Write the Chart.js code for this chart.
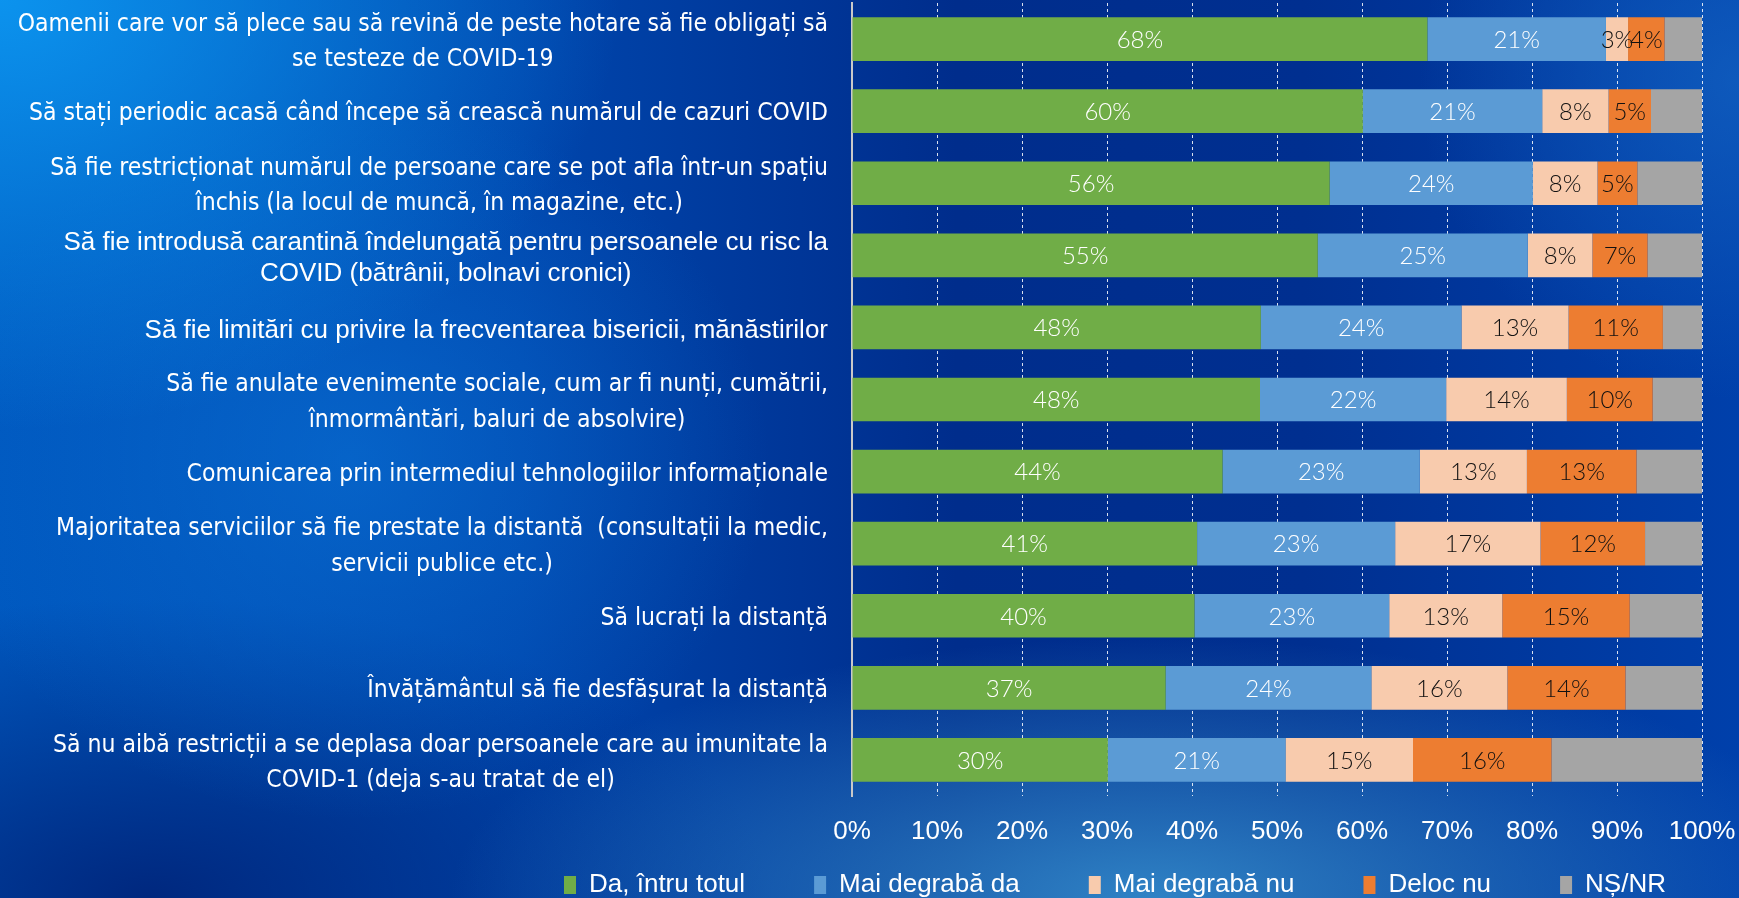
<!DOCTYPE html>
<html>
<head>
<meta charset="utf-8">
<script src="https://cdn.jsdelivr.net/npm/chart.js@4/dist/chart.umd.min.js"></script>
<style>
html, body { margin: 0; padding: 0; width: 1739px; height: 898px; overflow: hidden; }
body {
  background:
    radial-gradient(ellipse 620px 430px at 0px 0px, rgba(12,150,240,0.95), rgba(12,150,240,0) 100%),
    radial-gradient(ellipse 700px 260px at 1150px 898px, rgba(50,135,200,0.95), rgba(50,135,200,0)),
    radial-gradient(ellipse 420px 360px at 350px 460px, rgba(10,115,215,0.6), rgba(10,115,215,0)),
    radial-gradient(ellipse 320px 320px at 1739px 80px, rgba(20,100,195,0.7), rgba(20,100,195,0)),
    radial-gradient(ellipse 620px 300px at 150px 898px, rgba(0,35,120,0.9), rgba(0,35,120,0)),
    linear-gradient(90deg, #0058bf 0%, #0046ad 30%, #002d8c 55%, #002f90 75%, #0040ab 100%);
}
#wrap { position: relative; width: 1739px; height: 898px; }
</style>
</head>
<body>
<div id="wrap"><canvas id="measures_chart"></canvas></div>
<script>
// categories (survey items), top to bottom
const categories = [
  ['Oamenii care vor să plece sau să revină de peste hotare să fie obligați să', 'se testeze de COVID-19'],
  ['Să stați periodic acasă când începe să crească numărul de cazuri COVID'],
  ['Să fie restricționat numărul de persoane care se pot afla într-un spațiu', 'închis (la locul de muncă, în magazine, etc.)'],
  ['Să fie introdusă carantină îndelungată pentru persoanele cu risc la', 'COVID (bătrânii, bolnavi cronici)'],
  ['Să fie limitări cu privire la frecventarea bisericii, mănăstirilor'],
  ['Să fie anulate evenimente sociale, cum ar fi nunți, cumătrii,', 'înmormântări, baluri de absolvire)'],
  ['Comunicarea prin intermediul tehnologiilor informaționale'],
  ['Majoritatea serviciilor să fie prestate la distantă  (consultații la medic,', 'servicii publice etc.)'],
  ['Să lucrați la distanță'],
  ['Învățământul să fie desfășurat la distanță'],
  ['Să nu aibă restricții a se deplasa doar persoanele care au imunitate la', 'COVID-1 (deja s-au tratat de el)']
];
// these two labels are set in Arial in the original
const arial_labels = [3, 4];

const series_names = ['Da, întru totul', 'Mai degrabă da', 'Mai degrabă nu', 'Deloc nu', 'NȘ/NR'];

const da_total       = [67.7, 60.1, 56.2, 54.8, 48.1, 48.0, 43.6, 40.6, 40.3, 36.9, 30.1];
const mai_degraba_da = [21.0, 21.1, 23.9, 24.7, 23.6, 21.9, 23.2, 23.3, 22.9, 24.2, 20.9];
const mai_degraba_nu = [2.6, 7.8, 7.6, 7.6, 12.6, 14.2, 12.6, 17.1, 13.3, 16.0, 15.0];
const deloc_nu       = [4.3, 5.0, 4.7, 6.5, 11.1, 10.1, 12.9, 12.3, 15.0, 13.9, 16.3];
const ns_nr          = [4.4, 6.0, 7.6, 6.4, 4.6, 5.8, 7.7, 6.7, 8.5, 9.0, 17.7];

const x_ticks = [0, 10, 20, 30, 40, 50, 60, 70, 80, 90, 100];

const colors = ['#70AD47', '#5B9BD5', '#F8CBAD', '#ED7D31', '#A5A5A5'];
const label_colors = ['#ffffff', '#ffffff', '#111111', '#111111', null];

const PLOT_LEFT = 852;
const PLOT_BOTTOM = 796;
const CANVAS_H = 898;
const LEGEND_CENTER = {x: 1115, y: 885};

const all_series = [da_total, mai_degraba_da, mai_degraba_nu, deloc_nu, ns_nr];

const data_measures = {
  labels: categories,
  datasets: all_series.map((values, i) => ({
    label: series_names[i],
    data: values,
    backgroundColor: colors[i],
    borderWidth: 0,
    barPercentage: 0.606,
    categoryPercentage: 1.0
  }))
};

// category labels: right aligned block, lines centred inside the block
const categoryLabels = {
  id: 'categoryLabels',
  afterDraw(chart) {
    const ctx = chart.ctx;
    const y = chart.scales.y;
    const right = PLOT_LEFT - 24;
    ctx.save();
    ctx.fillStyle = '#ffffff';
    ctx.textBaseline = 'middle';
    ctx.textAlign = 'center';
    categories.forEach((lines, i) => {
      const arial = arial_labels.includes(i);
      ctx.font = arial ? '26px "Liberation Sans", Arial, sans-serif'
                       : '24.5px "DejaVu Sans Condensed", "DejaVu Sans", sans-serif';
      const lh = arial ? 31 : 35.5;
      const widest = Math.max(...lines.map(l => ctx.measureText(l).width));
      const cx = right - widest / 2;
      const cy = y.getPixelForValue(i) + 3;
      lines.forEach((l, k) => {
        ctx.fillText(l, cx, cy + (k - (lines.length - 1) / 2) * lh);
      });
    });
    ctx.restore();
  }
};

// value labels inside the segments
const segmentLabels = {
  id: 'segmentLabels',
  afterDatasetsDraw(chart) {
    const ctx = chart.ctx;
    ctx.save();
    ctx.font = '300 24px Lato, "Open Sans", sans-serif';
    ctx.textAlign = 'center';
    ctx.textBaseline = 'middle';
    chart.data.datasets.forEach((ds, di) => {
      if (!label_colors[di]) return;
      const meta = chart.getDatasetMeta(di);
      meta.data.forEach((bar, i) => {
        const p = bar.getCenterPoint();
        ctx.fillStyle = label_colors[di];
        ctx.fillText(Math.round(ds.data[i]) + '%', p.x, p.y + 1);
      });
    });
    ctx.restore();
  }
};

// move the legend row to where it sits in the original
const legendPlace = {
  id: 'legendPlace',
  afterLayout(chart) {
    const lg = chart.legend;
    if (!lg) return;
    const opts = lg.options.labels;
    const fs = opts.font.size;
    const itemH = Math.max(fs, opts.boxHeight);
    const dx = LEGEND_CENTER.x - (lg.left + lg.right) / 2;
    lg.left += dx;
    lg.right += dx;
    lg.top = LEGEND_CENTER.y - opts.padding - itemH / 2;
    lg.bottom = CANVAS_H;
  }
};

const config_measures = {
  type: 'bar',
  data: data_measures,
  options: {
    indexAxis: 'y',
    responsive: true,
    maintainAspectRatio: false,
    animation: false,
    layout: { padding: { top: 3, right: 37, left: 0, bottom: 0 } },
    scales: {
      x: {
        stacked: true,
        min: 0,
        max: 100,
        afterBuildTicks: (s) => { s.ticks = x_ticks.map(v => ({value: v})); },
        afterFit: (s) => {
          s.height = CANVAS_H - PLOT_BOTTOM - s.chart.legend.height;
          s.paddingLeft = 0;
          s.paddingRight = 0;
        },
        grid: {
          color: 'rgba(255,255,255,0.85)',
          lineWidth: 1,
          drawTicks: false
        },
        border: { display: false, dash: [3, 3] },
        ticks: {
          color: '#ffffff',
          padding: 20,
          font: { family: '"Liberation Sans", Arial', size: 26 },
          callback: (v) => v + '%'
        }
      },
      y: {
        stacked: true,
        afterFit: (s) => { s.width = PLOT_LEFT; },
        grid: { display: false },
        border: { display: true, color: '#c9c9c9', width: 2 },
        ticks: { display: false }
      }
    },
    plugins: {
      legend: {
        position: 'bottom',
        maxHeight: 40,
        labels: {
          color: '#ffffff',
          boxWidth: 12,
          boxHeight: 18,
          padding: 69,
          font: { family: '"Liberation Sans", Arial', size: 26 }
        }
      },
      title: { display: false },
      tooltip: { enabled: false }
    }
  },
  plugins: [categoryLabels, segmentLabels, legendPlace]
};

const myChartMeasures = new Chart(
  document.getElementById('measures_chart'),
  config_measures
);
</script>
</body>
</html>
